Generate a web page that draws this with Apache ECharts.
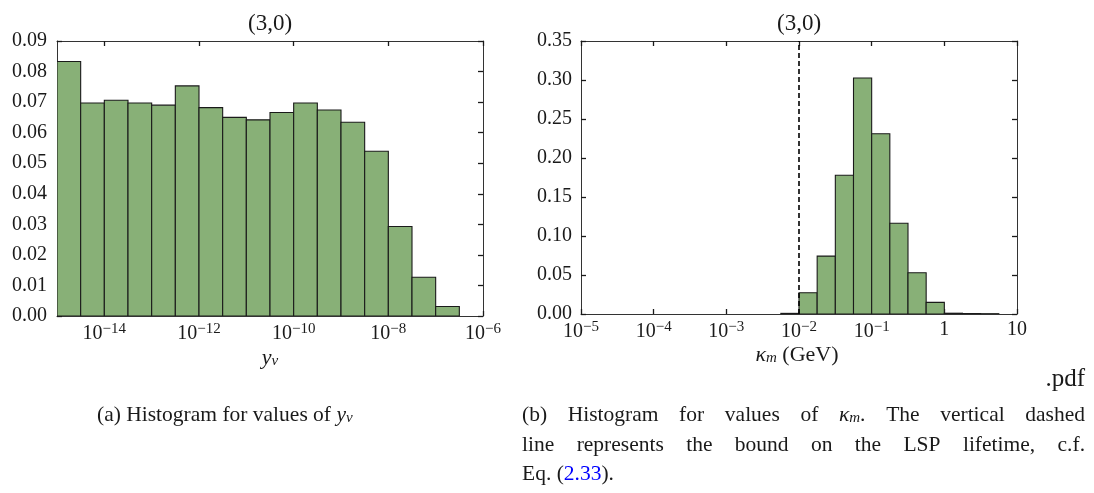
<!DOCTYPE html>
<html><head><meta charset="utf-8">
<script src="https://cdn.jsdelivr.net/npm/echarts@6/dist/echarts.min.js"></script>
<style>html,body{margin:0;padding:0;background:#fff}#c{width:1094px;height:493px}</style>
</head><body><div id="c"></div>
<script>
// ---------- data (x positions are log10 of the quantity) ----------
const yNuBinLo = [-15,-14.5,-14,-13.5,-13,-12.5,-12,-11.5,-11,-10.5,-10,-9.5,-9,-8.5,-8,-7.5,-7];
const yNuBinHi = [-14.5,-14,-13.5,-13,-12.5,-12,-11.5,-11,-10.5,-10,-9.5,-9,-8.5,-8,-7.5,-7,-6.5];
const yNuFreq  = [0.0833,0.0697,0.0706,0.0697,0.0690,0.0753,0.0682,0.0650,0.0642,0.0666,0.0697,0.0674,0.0634,0.0539,0.0293,0.0127,0.0031];
const yNuXTicks = [-14,-12,-10,-8,-6];
const yNuXRange = [-15,-6];
const yNuYTicks = [0,0.01,0.02,0.03,0.04,0.05,0.06,0.07,0.08,0.09];

const kappaBinLo = [-2.25,-2,-1.75,-1.5,-1.25,-1,-0.75,-0.5,-0.25,0,0.25,0.5];
const kappaBinHi = [-2,-1.75,-1.5,-1.25,-1,-0.75,-0.5,-0.25,0,0.25,0.5,0.75];
const kappaFreq  = [0.0008,0.0273,0.0742,0.1778,0.3026,0.2310,0.1164,0.0529,0.0149,0.0010,0.0006,0.0004];
const kappaXTicks = [-5,-4,-3,-2,-1,0,1];
const kappaXRange = [-5,1];
const kappaYTicks = [0,0.05,0.10,0.15,0.20,0.25,0.30,0.35];
const kappaBound = -2; // log10(0.01 GeV), LSP lifetime bound

const panelTitle = '(3,0)';
const captionA = '(a) Histogram for values of ';
// ---------------------------------------------------------------

const FONT = 'Liberation Serif';
const INK = '#1a1a1a';
const FRAME = '#333';
const BAR = '#88b077';

function expLabel(v){
  if (v === 0) return '1';
  if (v === 1) return '10';
  return '10{sup|' + (v < 0 ? '\u2212' : '') + Math.abs(v) + '}';
}
const labelRich = { sup: { fontSize: 15, fontFamily: FONT, color: INK, padding: [0,0,9,0] } };

function xAxes(grid, range, ticks){
  const common = { gridIndex: grid, type: 'value', min: range[0], max: range[1],
    axisLine: { show: true, onZero: false, lineStyle: { color: FRAME, width: 1 } },
    splitLine: { show: false } };
  return [
    Object.assign({}, common, { position: 'bottom',
      axisTick: { show: true, inside: true, length: 5, customValues: ticks, lineStyle: { color: INK, width: 1.3 } },
      axisLabel: { show: true, customValues: ticks, formatter: expLabel, rich: labelRich, margin: 6,
        fontFamily: FONT, fontSize: 20, color: INK } }),
    Object.assign({}, common, { position: 'top',
      axisTick: { show: true, inside: true, length: 5, customValues: ticks, lineStyle: { color: INK, width: 1.3 } },
      axisLabel: { show: false } })
  ];
}
function yAxes(grid, ticks, margin){
  const step = +(ticks[1] - ticks[0]).toFixed(4);
  const common = { gridIndex: grid, type: 'value', min: ticks[0], max: ticks[ticks.length-1], interval: step,
    axisLine: { show: true, onZero: false, lineStyle: { color: FRAME, width: 1 } },
    axisTick: { show: true, inside: true, length: 5, lineStyle: { color: INK, width: 1.3 } },
    splitLine: { show: false } };
  return [
    Object.assign({}, common, { position: 'left',
      axisLabel: { show: true, margin: margin, fontFamily: FONT, fontSize: 20, color: INK,
        formatter: v => v.toFixed(2) } }),
    Object.assign({}, common, { position: 'right', axisLabel: { show: false } })
  ];
}
function histSeries(xi, yi, lo, hi, freq){
  return { type: 'custom', xAxisIndex: xi, yAxisIndex: yi, clip: true,
    encode: { x: [0,1], y: 2 },
    data: lo.map((l,i) => [l, hi[i], freq[i]]),
    renderItem: function(params, api){
      const a = api.coord([api.value(0), api.value(2)]);
      const b = api.coord([api.value(1), 0]);
      return { type: 'rect',
        shape: { x: a[0], y: a[1], width: b[0]-a[0], height: b[1]-a[1] },
        style: { fill: BAR, stroke: INK, lineWidth: 1.1 } };
    } };
}

// text helpers (for justified caption lines)
const ctx = document.createElement('canvas').getContext('2d');
function measure(str, size, italic){ ctx.font = (italic ? 'italic ' : '') + size + 'px "' + FONT + '"'; return ctx.measureText(str).width; }
const CAP = 21.5;
const SUB = 15;
const capRich = {
  i: { fontFamily: FONT, fontStyle: 'italic', fontSize: CAP, fill: INK },
  sub: { fontFamily: FONT, fontStyle: 'italic', fontSize: SUB, fill: INK, padding: [6,0,0,0] },
  link: { fontFamily: FONT, fontSize: CAP, fill: '#0000ff' }
};
function wordText(w){ return w.map(p => p[1] === 'n' ? p[0] : '{' + p[1] + '|' + p[0] + '}').join(''); }
function wordWidth(w){ return w.reduce((s,p) => s + (p[1]==='sub' ? measure(p[0],SUB,true) : measure(p[0],CAP,p[1]==='i')), 0); }
function justified(words, x0, x1, y){
  const total = words.reduce((s,w) => s + wordWidth(w), 0);
  const gap = (x1 - x0 - total) / (words.length - 1);
  let x = x0; const out = [];
  words.forEach(w => {
    out.push({ type: 'text', x: x, y: y, style: { text: wordText(w), rich: capRich, font: CAP + 'px "' + FONT + '"', fill: INK, verticalAlign: 'middle' } });
    x += wordWidth(w) + gap;
  });
  return out;
}
const W = s => s.split(' ').map(t => [[t,'n']]);
const line1 = W('(b) Histogram for values of').concat([[['κ','i'],['m','sub'],['.','n']]]).concat(W('The vertical dashed'));
const line2 = W('line represents the bound on the LSP lifetime, c.f.');

const gText = (x, y, text, size, align, rich) => ({ type: 'text', x: x, y: y,
  style: { text: text, rich: rich || capRich, font: size + 'px "' + FONT + '"', fill: INK, align: align || 'center', verticalAlign: 'middle' } });

const axisRich = {
  i: { fontFamily: FONT, fontStyle: 'italic', fontSize: 22, fill: INK },
  sub: { fontFamily: FONT, fontStyle: 'italic', fontSize: 15, fill: INK, padding: [7,0,0,0] }
};

const option = {
  animation: false,
  backgroundColor: '#fff',
  grid: [
    { left: 57, top: 41, width: 426, height: 275 },
    { left: 581, top: 41, width: 436, height: 273 }
  ],
  xAxis: xAxes(0, yNuXRange, yNuXTicks).concat(xAxes(1, kappaXRange, kappaXTicks)),
  yAxis: yAxes(0, yNuYTicks, 10).concat(yAxes(1, kappaYTicks, 9)),
  series: [
    histSeries(0, 0, yNuBinLo, yNuBinHi, yNuFreq),
    histSeries(2, 2, kappaBinLo, kappaBinHi, kappaFreq),
    { type: 'line', xAxisIndex: 2, yAxisIndex: 2, symbol: 'none', z: 5,
      data: [[kappaBound, kappaYTicks[0]], [kappaBound, kappaYTicks[kappaYTicks.length-1]]],
      lineStyle: { color: '#000', width: 1.6, type: [5,3] } }
  ],
  graphic: [
    gText(270, 24, panelTitle, 23),
    gText(799, 24, panelTitle, 23),
    gText(270, 358, '{i|y}{sub|ν}', 22, 'center', axisRich),
    gText(797, 355, '{i|κ}{sub|m} (GeV)', 22, 'center', axisRich),
    gText(1085, 379, '.pdf', 25, 'right'),
    gText(97, 415, captionA + '{i|y}{sub|ν}', CAP, 'left'),
    gText(522, 474, 'Eq. ({link|2.33}).', CAP, 'left')
  ].concat(justified(line1, 522, 1085, 415)).concat(justified(line2, 522, 1085, 445))
};
const chart = echarts.init(document.getElementById('c'), null, { renderer: 'canvas' });
chart.setOption(option);
</script>
</body></html>
